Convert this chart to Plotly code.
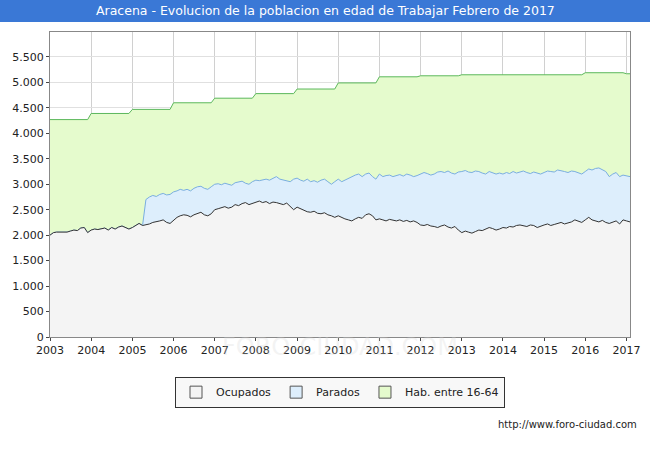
import pandas as pd
import plotly.graph_objects as go

months = pd.date_range("2003-01-01", "2017-02-01", freq="MS")

# Hab. entre 16-64 (monthly, Jan 2003 - Feb 2017)
hab = ([4270] * 12 + [4390] * 12 + [4470] * 12 + [4600] * 12 + [4690] * 12 +
       [4780] * 12 + [4870] * 12 + [4990] * 12 + [5110] * 12 + [5130] * 12 +
       [5150] * 12 + [5150] * 12 + [5150] * 12 + [5190] * 12 + [5170] * 2)

# Ocupados
ocupados = [
    2000, 2050, 2060, 2060, 2070, 2060, 2080, 2100, 2090, 2140, 2150, 2050,
    2100, 2120, 2110, 2130, 2140, 2100, 2150, 2120, 2160, 2180, 2150, 2120,
    2150, 2200, 2230, 2190, 2200, 2220, 2250, 2260, 2280, 2300, 2250, 2230,
    2300, 2350, 2380, 2400, 2390, 2360, 2400, 2420, 2450, 2400, 2380, 2420,
    2500, 2520, 2540, 2560, 2530, 2550, 2600, 2580, 2620, 2640, 2600, 2620,
    2650, 2670, 2640, 2660, 2620, 2650, 2640, 2620, 2600, 2630, 2560, 2500,
    2550, 2520, 2480, 2460, 2450, 2470, 2430, 2420, 2440, 2400, 2380, 2350,
    2380, 2340, 2320, 2300, 2280, 2320, 2350, 2330, 2400, 2420, 2380, 2300,
    2320, 2300, 2280, 2310, 2290, 2280, 2300, 2270, 2290, 2260, 2280, 2250,
    2200, 2190, 2210, 2180, 2170, 2150, 2180, 2200, 2160, 2140, 2170, 2100,
    2050, 2080, 2060, 2040, 2070, 2100, 2090, 2120, 2150, 2130, 2100, 2120,
    2150, 2140, 2170, 2160, 2190, 2200, 2180, 2170, 2200, 2190, 2150, 2180,
    2200, 2220, 2190, 2210, 2230, 2250, 2220, 2240, 2260, 2300, 2270, 2250,
    2300, 2350, 2300, 2280, 2260, 2290, 2250, 2230, 2260, 2280, 2220, 2300,
    2280, 2260,
]

# Ocupados + Parados (no parados data before mid-2005)
total = [
    2000, 2050, 2060, 2060, 2070, 2060, 2080, 2100, 2090, 2140, 2150, 2050,
    2100, 2120, 2110, 2130, 2140, 2100, 2150, 2120, 2160, 2180, 2150, 2120,
    2150, 2200, 2230, 2190, 2700, 2750, 2780, 2760, 2800, 2820, 2790, 2800,
    2850, 2870, 2900, 2880, 2900, 2870, 2920, 2950, 2960, 2920, 2900, 2950,
    3000, 3010, 2990, 3020, 3000, 2980, 3030, 3050, 3060, 3020, 3000, 3050,
    3080, 3070, 3090, 3100, 3080, 3120, 3150, 3100, 3080, 3060, 3050, 3100,
    3120, 3080, 3060, 3100, 3050, 3070, 3040, 3080, 3100, 3050, 3000, 3050,
    3100, 3050, 3080, 3120, 3150, 3180, 3200, 3150, 3200, 3220, 3150, 3100,
    3200, 3150, 3170, 3180, 3150, 3170, 3190, 3160, 3200, 3180, 3150, 3170,
    3200, 3230, 3210, 3180, 3200, 3240, 3250, 3230, 3260, 3220, 3200, 3240,
    3250, 3270, 3240, 3230, 3260, 3250, 3220, 3200, 3250, 3230, 3200, 3220,
    3200, 3230, 3210, 3250, 3220, 3240, 3260, 3230, 3210, 3240, 3220, 3200,
    3230, 3260, 3250, 3240, 3280, 3270, 3250, 3230, 3260, 3250, 3220, 3200,
    3250, 3300, 3280, 3310, 3320, 3280, 3250, 3150, 3200, 3230, 3150, 3180,
    3170, 3150,
]

year_ticks = [str(y) for y in range(2003, 2018)]
y_ticks = list(range(0, 5501, 500))
y_labels = [f"{v:,}".replace(",", ".") for v in y_ticks]

legend_names = ["Ocupados", "Parados", "Hab. entre 16-64"]
legend_fill = ["#f4f4f4", "#ddeefc", "#e5fbcd"]

fig = go.Figure()
fig.add_trace(go.Scatter(x=months, y=hab, fill="tozeroy", showlegend=False,
                         fillcolor="#e5fbcd", line=dict(color="#5cb85c", width=1)))
fig.add_trace(go.Scatter(x=months, y=total, fill="tozeroy", showlegend=False,
                         fillcolor="#ddeefc", line=dict(color="#7aaee0", width=1)))
fig.add_trace(go.Scatter(x=months, y=ocupados, fill="tozeroy", showlegend=False,
                         fillcolor="#f4f4f4", line=dict(color="#333333", width=1)))
# legend boxes
for name, col in zip(legend_names, legend_fill):
    fig.add_trace(go.Bar(x=[None], y=[None], name=name,
                         marker=dict(color=col, line=dict(color="#555", width=1))))

fig.update_layout(
    width=650, height=450, autosize=False,
    margin=dict(l=50, r=20, t=32, b=113, autoexpand=False),
    paper_bgcolor="white", plot_bgcolor="white",
    font=dict(family="DejaVu Sans", size=11, color="#222"),
    showlegend=True,
    legend=dict(orientation="h", x=0.5, xanchor="center", y=-0.13, yanchor="top",
                bordercolor="#333", borderwidth=1,
                bgcolor="#f8f8f8", font=dict(size=11)),
    shapes=[dict(type="rect", xref="paper", yref="paper", x0=-0.1, x1=1.05,
                 y0=1 + 10/305, y1=1 + 33/305, fillcolor="#3a78d6", line=dict(width=0), layer="below")],
    annotations=[
        dict(text="Aracena - Evolucion de la poblacion en edad de Trabajar Febrero de 2017",
             xref="paper", yref="paper", x=0.475, y=1 + 21/305, yanchor="middle", showarrow=False,
             font=dict(color="white", size=12.5)),
        dict(text="http://www.foro-ciudad.com", xref="paper", yref="paper",
             x=1.015, y=-0.31, xanchor="right", showarrow=False, font=dict(size=10)),
        dict(text="FORO-CIUDAD.COM", xref="paper", yref="paper", x=0.5, y=-0.085,
             showarrow=False, font=dict(size=24, color="rgba(215,215,215,0.3)")),
    ],
)
fig.update_xaxes(range=[months[0], months[-1]], tickvals=[pd.Timestamp(f"{y}-01-01") for y in range(2003, 2018)],
                 ticktext=year_ticks, showgrid=True, gridcolor="#d0d0d0",
                 showline=True, linecolor="#888", mirror=True, ticks="outside", ticklen=3)
fig.update_yaxes(range=[0, 5990], tickvals=y_ticks, ticktext=y_labels, showgrid=True,
                 gridcolor="#e0e0e0", showline=True, linecolor="#888", mirror=True,
                 ticks="outside", ticklen=3, zeroline=False)

fig.write_html("out.html", config={"displayModeBar": False},
               post_script="document.body.style.margin='0';")
